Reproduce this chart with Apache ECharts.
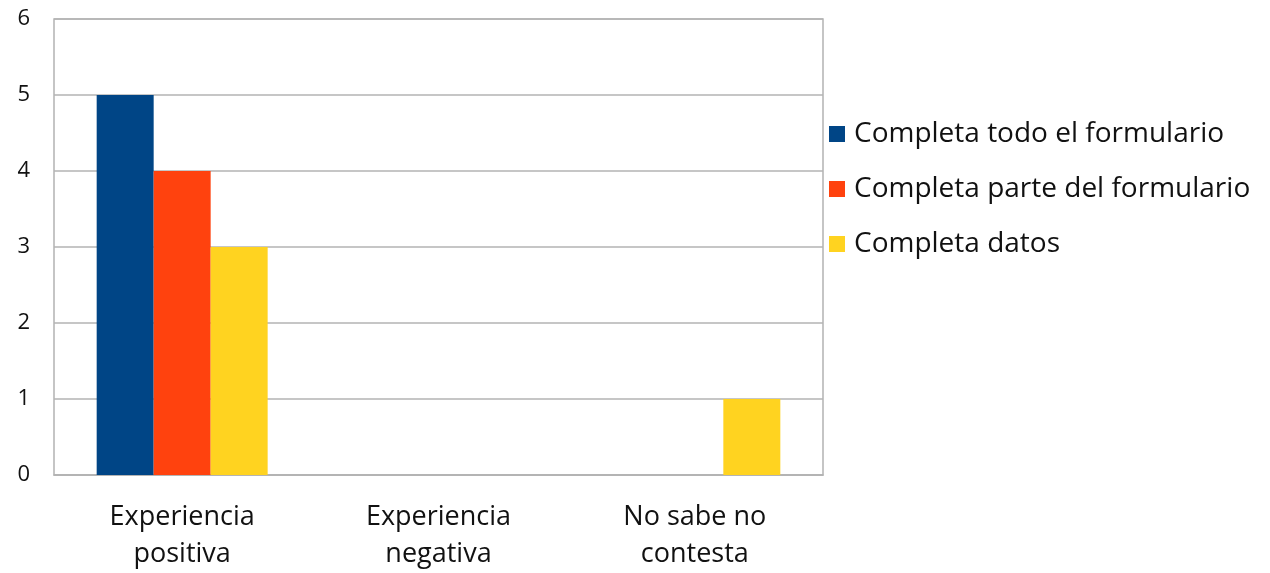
<!DOCTYPE html>
<html>
<head>
<meta charset="utf-8">
<script src="https://cdn.jsdelivr.net/npm/echarts@6/dist/echarts.min.js"></script>
<style>html,body{margin:0;padding:0;background:#fff;}#c{width:1270px;height:573px;}</style>
</head>
<body>
<div id="c"></div>
<script>
const categories = ["Experiencia\npositiva", "Experiencia\nnegativa", "No sabe no\ncontesta"];
const seriesNames = ["Completa todo el formulario", "Completa parte del formulario", "Completa datos"];
const todo = [5, 0, 0];
const parte = [4, 0, 0];
const datos = [3, 0, 1];
const colors = ["#004586", "#ff420e", "#ffd320"];

const chart = echarts.init(document.getElementById('c'));
const font = "'Open Sans', 'Noto Sans', sans-serif";
chart.setOption({
  animation: false,
  textStyle: { fontFamily: font },
  grid: { left: 54, right: 447, top: 19, bottom: 98, show: true, borderColor: '#b3b3b3', borderWidth: 1.5 },
  legend: {
    orient: 'vertical', left: 824, top: 114,
    itemWidth: 16, itemHeight: 16, itemGap: 25,
    icon: 'rect',
    textStyle: { fontSize: 28, color: '#111', fontFamily: font, lineHeight: 30, padding: [0, 0, 0, 4] },
    data: seriesNames
  },
  xAxis: {
    type: 'category', data: categories,
    axisLine: { show: true, lineStyle: { color: '#b3b3b3', width: 1.5 } },
    axisTick: { show: false },
    axisLabel: { fontSize: 27, color: '#111', lineHeight: 37, margin: 24, fontFamily: font }
  },
  yAxis: {
    type: 'value', min: 0, max: 6, interval: 1,
    axisLine: { show: false }, axisTick: { show: false },
    splitLine: { lineStyle: { color: '#b3b3b3', width: 1.5 } },
    axisLabel: { fontSize: 22, color: '#111', margin: 24, fontFamily: font }
  },
  series: [
    { name: seriesNames[0], type: 'bar', data: todo, itemStyle: { color: colors[0] }, barGap: '0%', barCategoryGap: '33.3%' },
    { name: seriesNames[1], type: 'bar', data: parte, itemStyle: { color: colors[1] }, barGap: '0%', barCategoryGap: '33.3%' },
    { name: seriesNames[2], type: 'bar', data: datos, itemStyle: { color: colors[2] }, barGap: '0%', barCategoryGap: '33.3%' }
  ]
});
</script>
</body>
</html>
